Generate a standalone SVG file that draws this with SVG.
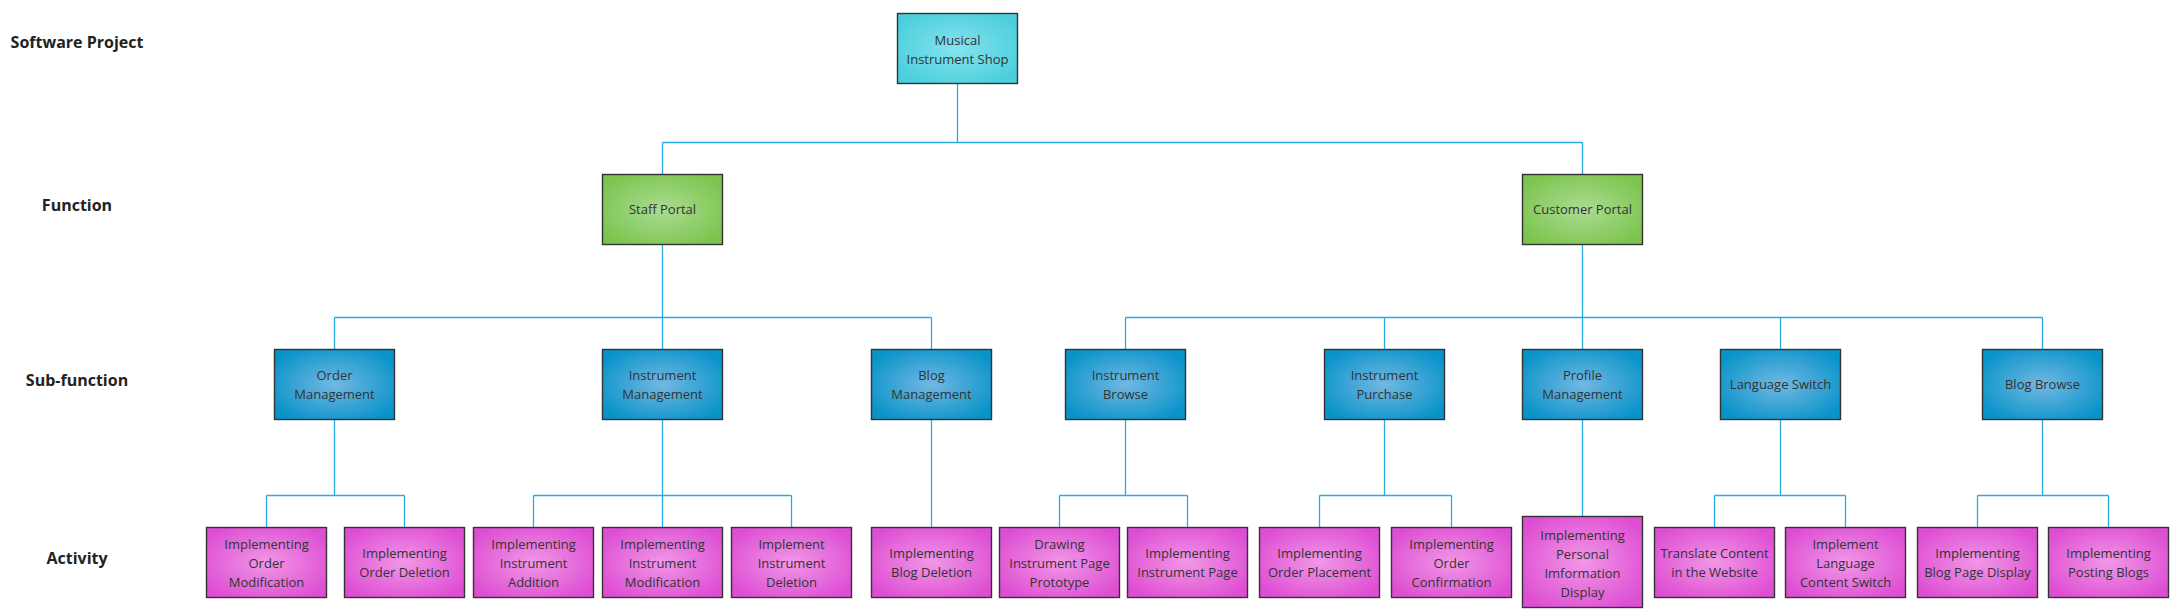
<svg xmlns="http://www.w3.org/2000/svg" width="2170" height="609" viewBox="0 0 2170 609">
<style>
.box{stroke:#333;stroke-width:1.4}
.t{font-family:"Open Sans","Liberation Sans",sans-serif;font-size:13px;fill:#333;text-anchor:middle}
.lbl{font-family:"Open Sans","Liberation Sans",sans-serif;font-size:16px;font-weight:bold;fill:#222;text-anchor:middle}
.c{fill:none;stroke:#29abe2;stroke-width:1.3}
</style>
<defs>
<radialGradient id="gCyan" cx="50%" cy="50%" r="60%"><stop offset="0" stop-color="#84e4ee"/><stop offset="1" stop-color="#4ccedc"/></radialGradient>
<radialGradient id="gGreen" cx="50%" cy="50%" r="60%"><stop offset="0" stop-color="#abdc92"/><stop offset="1" stop-color="#7cc44e"/></radialGradient>
<radialGradient id="gBlue" cx="50%" cy="50%" r="60%"><stop offset="0" stop-color="#72b8e2"/><stop offset="1" stop-color="#0893c9"/></radialGradient>
<radialGradient id="gPink" cx="50%" cy="50%" r="60%"><stop offset="0" stop-color="#f197e7"/><stop offset="1" stop-color="#de4ed3"/></radialGradient>
</defs>
<rect width="2170" height="609" fill="#fff"/>
<g id="labels">
<text class="lbl" x="77" y="48">Software Project</text>
<text class="lbl" x="77" y="211">Function</text>
<text class="lbl" x="77" y="386">Sub-function</text>
<text class="lbl" x="77" y="564">Activity</text>
</g>
<g id="connectors">
<path class="c" d="M957.5 83.5V142.5M662.5 142.5H1582.5M662.5 142.5V174.5M1582.5 142.5V174.5"/>
<path class="c" d="M662.5 244.5V349.5M334.5 317.5H931.5M334.5 317.5V349.5M931.5 317.5V349.5"/>
<path class="c" d="M1582.5 244.5V349.5M1125.5 317.5H2042.5M1125.5 317.5V349.5M1384.5 317.5V349.5M1780.5 317.5V349.5M2042.5 317.5V349.5"/>
<path class="c" d="M334.5 419.5V495.5M266.5 495.5H404.5M266.5 495.5V527.5M404.5 495.5V527.5"/>
<path class="c" d="M662.5 419.5V527.5M533.5 495.5H791.5M533.5 495.5V527.5M791.5 495.5V527.5"/>
<path class="c" d="M931.5 419.5V527.5"/>
<path class="c" d="M1125.5 419.5V495.5M1059.5 495.5H1187.5M1059.5 495.5V527.5M1187.5 495.5V527.5"/>
<path class="c" d="M1384.5 419.5V495.5M1319.5 495.5H1451.5M1319.5 495.5V527.5M1451.5 495.5V527.5"/>
<path class="c" d="M1582.5 419.5V516.5"/>
<path class="c" d="M1780.5 419.5V495.5M1714.5 495.5H1845.5M1714.5 495.5V527.5M1845.5 495.5V527.5"/>
<path class="c" d="M2042.5 419.5V495.5M1977.5 495.5H2108.5M1977.5 495.5V527.5M2108.5 495.5V527.5"/>
</g>
<g id="n-shop"><rect class="box" x="897.5" y="13.5" width="120" height="70" fill="url(#gCyan)"/><text class="t" x="957.5" y="44.5">Musical</text><text class="t" x="957.5" y="63.5">Instrument Shop</text></g>
<g id="n-staff"><rect class="box" x="602.5" y="174.5" width="120" height="70" fill="url(#gGreen)"/><text class="t" x="662.5" y="214">Staff Portal</text></g>
<g id="n-customer"><rect class="box" x="1522.5" y="174.5" width="120" height="70" fill="url(#gGreen)"/><text class="t" x="1582.5" y="214">Customer Portal</text></g>
<g id="n-ordermgmt"><rect class="box" x="274.5" y="349.5" width="120" height="70" fill="url(#gBlue)"/><text class="t" x="334.5" y="380">Order</text><text class="t" x="334.5" y="399">Management</text></g>
<g id="n-instmgmt"><rect class="box" x="602.5" y="349.5" width="120" height="70" fill="url(#gBlue)"/><text class="t" x="662.5" y="380">Instrument</text><text class="t" x="662.5" y="399">Management</text></g>
<g id="n-blogmgmt"><rect class="box" x="871.5" y="349.5" width="120" height="70" fill="url(#gBlue)"/><text class="t" x="931.5" y="380">Blog</text><text class="t" x="931.5" y="399">Management</text></g>
<g id="n-instbrowse"><rect class="box" x="1065.5" y="349.5" width="120" height="70" fill="url(#gBlue)"/><text class="t" x="1125.5" y="380">Instrument</text><text class="t" x="1125.5" y="399">Browse</text></g>
<g id="n-instpurchase"><rect class="box" x="1324.5" y="349.5" width="120" height="70" fill="url(#gBlue)"/><text class="t" x="1384.5" y="380">Instrument</text><text class="t" x="1384.5" y="399">Purchase</text></g>
<g id="n-profile"><rect class="box" x="1522.5" y="349.5" width="120" height="70" fill="url(#gBlue)"/><text class="t" x="1582.5" y="380">Profile</text><text class="t" x="1582.5" y="399">Management</text></g>
<g id="n-lang"><rect class="box" x="1720.5" y="349.5" width="120" height="70" fill="url(#gBlue)"/><text class="t" x="1780.5" y="389">Language Switch</text></g>
<g id="n-blogbrowse"><rect class="box" x="1982.5" y="349.5" width="120" height="70" fill="url(#gBlue)"/><text class="t" x="2042.5" y="389">Blog Browse</text></g>
<g id="a1"><rect class="box" x="206.5" y="527.5" width="120" height="70" fill="url(#gPink)"/><text class="t" x="266.5" y="548.5">Implementing</text><text class="t" x="266.5" y="567.5">Order</text><text class="t" x="266.5" y="586.5">Modification</text></g>
<g id="a2"><rect class="box" x="344.5" y="527.5" width="120" height="70" fill="url(#gPink)"/><text class="t" x="404.5" y="558">Implementing</text><text class="t" x="404.5" y="577">Order Deletion</text></g>
<g id="a3"><rect class="box" x="473.5" y="527.5" width="120" height="70" fill="url(#gPink)"/><text class="t" x="533.5" y="548.5">Implementing</text><text class="t" x="533.5" y="567.5">Instrument</text><text class="t" x="533.5" y="586.5">Addition</text></g>
<g id="a4"><rect class="box" x="602.5" y="527.5" width="120" height="70" fill="url(#gPink)"/><text class="t" x="662.5" y="548.5">Implementing</text><text class="t" x="662.5" y="567.5">Instrument</text><text class="t" x="662.5" y="586.5">Modification</text></g>
<g id="a5"><rect class="box" x="731.5" y="527.5" width="120" height="70" fill="url(#gPink)"/><text class="t" x="791.5" y="548.5">Implement</text><text class="t" x="791.5" y="567.5">Instrument</text><text class="t" x="791.5" y="586.5">Deletion</text></g>
<g id="a6"><rect class="box" x="871.5" y="527.5" width="120" height="70" fill="url(#gPink)"/><text class="t" x="931.5" y="558">Implementing</text><text class="t" x="931.5" y="577">Blog Deletion</text></g>
<g id="a7"><rect class="box" x="999.5" y="527.5" width="120" height="70" fill="url(#gPink)"/><text class="t" x="1059.5" y="548.5">Drawing</text><text class="t" x="1059.5" y="567.5">Instrument Page</text><text class="t" x="1059.5" y="586.5">Prototype</text></g>
<g id="a8"><rect class="box" x="1127.5" y="527.5" width="120" height="70" fill="url(#gPink)"/><text class="t" x="1187.5" y="558">Implementing</text><text class="t" x="1187.5" y="577">Instrument Page</text></g>
<g id="a9"><rect class="box" x="1259.5" y="527.5" width="120" height="70" fill="url(#gPink)"/><text class="t" x="1319.5" y="558">Implementing</text><text class="t" x="1319.5" y="577">Order Placement</text></g>
<g id="a10"><rect class="box" x="1391.5" y="527.5" width="120" height="70" fill="url(#gPink)"/><text class="t" x="1451.5" y="548.5">Implementing</text><text class="t" x="1451.5" y="567.5">Order</text><text class="t" x="1451.5" y="586.5">Confirmation</text></g>
<g id="a11"><rect class="box" x="1522.5" y="516.5" width="120" height="91" fill="url(#gPink)"/><text class="t" x="1582.5" y="540">Implementing</text><text class="t" x="1582.5" y="559">Personal</text><text class="t" x="1582.5" y="578">Imformation</text><text class="t" x="1582.5" y="597">Display</text></g>
<g id="a12"><rect class="box" x="1654.5" y="527.5" width="120" height="70" fill="url(#gPink)"/><text class="t" x="1714.5" y="558">Translate Content</text><text class="t" x="1714.5" y="577">in the Website</text></g>
<g id="a13"><rect class="box" x="1785.5" y="527.5" width="120" height="70" fill="url(#gPink)"/><text class="t" x="1845.5" y="548.5">Implement</text><text class="t" x="1845.5" y="567.5">Language</text><text class="t" x="1845.5" y="586.5">Content Switch</text></g>
<g id="a14"><rect class="box" x="1917.5" y="527.5" width="120" height="70" fill="url(#gPink)"/><text class="t" x="1977.5" y="558">Implementing</text><text class="t" x="1977.5" y="577">Blog Page Display</text></g>
<g id="a15"><rect class="box" x="2048.5" y="527.5" width="120" height="70" fill="url(#gPink)"/><text class="t" x="2108.5" y="558">Implementing</text><text class="t" x="2108.5" y="577">Posting Blogs</text></g>
</svg>
